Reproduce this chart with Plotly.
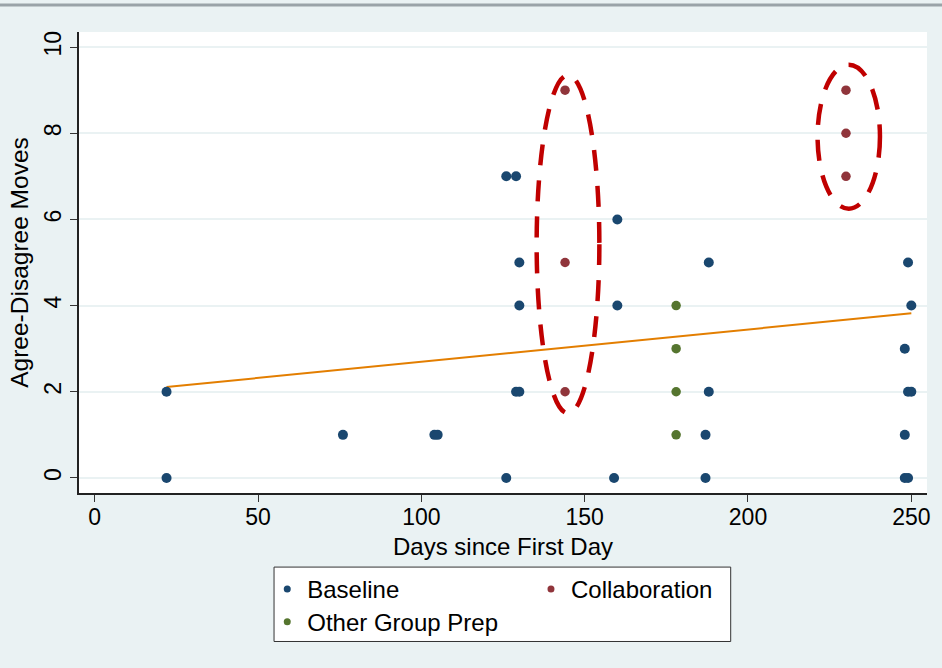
import plotly.graph_objects as go

# ---- data ----
baseline_x = [22, 22, 76, 104, 105, 126, 129, 130, 130, 129, 130, 126, 160, 160, 159,
              188, 188, 187, 187, 249, 250, 248, 249, 250, 248, 248, 249]
baseline_y = [2, 0, 1, 1, 1, 7, 7, 5, 4, 2, 2, 0, 6, 4, 0,
              5, 2, 1, 0, 5, 4, 3, 2, 2, 1, 0, 0]
collab_x = [144, 144, 144, 230, 230, 230]
collab_y = [9, 5, 2, 9, 8, 7]
prep_x = [178, 178, 178, 178]
prep_y = [4, 3, 2, 1]
fit_x = [22, 250]
fit_y = [2.11, 3.82]
x_ticks = [0, 50, 100, 150, 200, 250]
y_ticks = [0, 2, 4, 6, 8, 10]
x_title = "Days since First Day"
y_title = "Agree-Disagree Moves"

NAVY = "#1a476f"
MAROON = "#90353b"
GREEN = "#55752f"
ORANGE = "#e37e00"
BG = "#eaf2f3"
FONT = "Liberation Sans, Arial, sans-serif"

fig = go.Figure()

fig.add_trace(go.Scatter(x=fit_x, y=fit_y, mode="lines",
                         line=dict(color=ORANGE, width=2), showlegend=False,
                         hoverinfo="skip"))
fig.add_trace(go.Scatter(x=baseline_x, y=baseline_y, mode="markers",
                         marker=dict(color=NAVY, size=10), showlegend=False,
                         name="Baseline"))
fig.add_trace(go.Scatter(x=collab_x, y=collab_y, mode="markers",
                         marker=dict(color=MAROON, size=9.5), showlegend=False,
                         name="Collaboration"))
fig.add_trace(go.Scatter(x=prep_x, y=prep_y, mode="markers",
                         marker=dict(color=GREEN, size=9.5), showlegend=False,
                         name="Other Group Prep"))

# legend entries (small markers, laid out in two columns as in the reference)
for name, col, lg in [("Baseline", NAVY, "legend"),
                      ("Collaboration", MAROON, "legend2"),
                      ("Other Group Prep", GREEN, "legend3")]:
    fig.add_trace(go.Scatter(x=[None], y=[None], mode="markers", name=name,
                             marker=dict(color=col, size=7), legend=lg))

# dashed ellipses
for x0, x1, y0, y1 in [(135.3, 154.5, 1.50, 9.35), (221.3, 240.4, 6.25, 9.59)]:
    fig.add_shape(type="circle", xref="x", yref="y", x0=x0, x1=x1, y0=y0, y1=y1,
                  line=dict(color="#c00000", width=4.5, dash="21px,15px"), layer="above")

# top window border line
fig.add_shape(type="line", xref="paper", yref="paper", x0=-0.2, x1=1.1,
              y0=1.0586, y1=1.0586, line=dict(color="#9aa3a8", width=3))

# legend box
fig.add_shape(type="rect", xref="paper", yref="paper", x0=0.2300, x1=0.7685,
              y0=-0.3221, y1=-0.1607, fillcolor="white",
              line=dict(color="#333333", width=1), layer="above")

# x-axis title placed as in the reference (close under the tick labels)
fig.add_annotation(text=x_title, xref="paper", yref="paper", x=0.5, y=-0.0832,
                   xanchor="center", yanchor="top", showarrow=False,
                   font=dict(family=FONT, size=24, color="black"))

leg_common = dict(bgcolor="rgba(0,0,0,0)", borderwidth=0, xanchor="left",
                  yanchor="middle", font=dict(family=FONT, size=24, color="black"),
                  itemclick=False, itemdoubleclick=False)

fig.update_layout(
    width=942, height=668,
    margin=dict(l=79, r=15, t=32, b=175),
    paper_bgcolor=BG, plot_bgcolor="white",
    font=dict(family=FONT, color="black", size=24),
    showlegend=True,
    legend=dict(x=0.2220, y=-0.2092, **leg_common),
    legend2=dict(x=0.5330, y=-0.2092, **leg_common),
    legend3=dict(x=0.2220, y=-0.2802, **leg_common),
    xaxis=dict(range=[-4.8, 254.8], tickmode="array", tickvals=x_ticks,
               ticks="outside", ticklen=7, tickwidth=1, tickcolor="#333333",
               showgrid=False, zeroline=False, showline=True, linecolor="#222222",
               linewidth=1.5, tickfont=dict(size=23), ticklabelstandoff=-4,
               automargin=False),
    yaxis=dict(range=[-0.35, 10.35], tickmode="array", tickvals=y_ticks,
               ticks="outside", ticklen=7, tickwidth=1, tickcolor="#333333",
               tickangle=-90, showgrid=True, gridcolor=BG, gridwidth=2,
               zeroline=False, showline=True, linecolor="#222222", linewidth=1.5,
               tickfont=dict(size=23), automargin=False,
               title=dict(text=y_title, font=dict(size=24.5), standoff=4)),
)

fig.write_html("out.html", config={"displayModeBar": False},
               post_script="document.body.style.margin='0px';")
